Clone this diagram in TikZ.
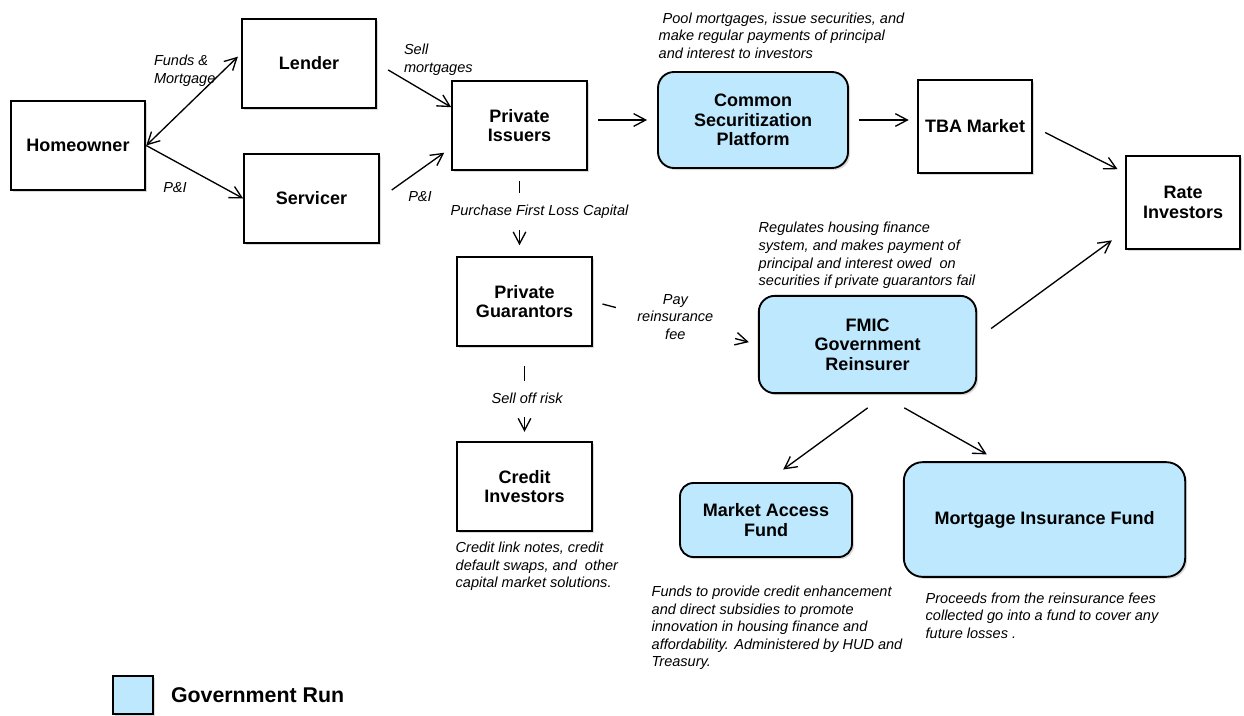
\documentclass[tikz,border=0pt]{standalone}
\usepackage{fontspec}
\setmainfont{Liberation Sans}
\usepackage{tikz}
\usetikzlibrary{shapes,arrows.meta,positioning,shadows}

\definecolor{govblue}{RGB}{189,232,253}
\newcommand{\boxfont}{\fontsize{13.5}{14.5}\selectfont\bfseries}
\newcommand{\lblfont}{\fontsize{10.9}{13.2}\selectfont\itshape}

\tikzstyle{party} = [rectangle, draw, line width=1.4pt, fill=white, align=center,
    font=\boxfont, minimum width=101pt, minimum height=67pt,
    drop shadow={shadow xshift=1.5pt, shadow yshift=-1.5pt, opacity=0.3}]
\tikzstyle{market} = [party, minimum width=86pt, minimum height=70pt]
\tikzstyle{govrun} = [party, fill=govblue, rounded corners=12pt]
\tikzstyle{note} = [font=\lblfont, align=left, inner sep=0pt, anchor=west]
\tikzstyle{flowlbl} = [font=\lblfont, align=center, inner sep=1pt]
\tikzstyle{gap} = [flowlbl, fill=white]

\begin{document}
\begin{tikzpicture}[x=0.75pt, y=-0.75pt, line width=1pt,
    >={Straight Barb[length=9pt,width=9.5pt]}]
    \useasboundingbox (0,0) rectangle (1244,715);

    \node[party] (home) at (78,145.5) {Homeowner};
    \node[party] (lender) at (309,63.5) {Lender};
    \node[party] (serv) at (311.5,198.5) {Servicer};
    \node[party] (issuers) at (519.5,125.5) {Private\\Issuers};
    \node[govrun, minimum width=142.5pt, minimum height=72pt] (csp) at (753,120) {Common\\Securitization\\Platform};
    \node[market] (tba) at (975,126.5) {TBA Market};
    \node[market] (rate) at (1183,202.5) {Rate\\Investors};

    \node[party] (guar) at (524.5,301.5) {Private\\Guarantors};
    \node[party, below=70.5pt of guar] (credit) {Credit\\Investors};
    \node[govrun, minimum width=163pt, minimum height=73pt] (fmic) at (867.5,344.5) {FMIC\\Government\\Reinsurer};
    \node[govrun, minimum width=129pt, minimum height=55.5pt, rounded corners=10pt] (maf) at (766,520) {Market Access\\Fund};
    \node[govrun, minimum width=211pt, minimum height=86pt, rounded corners=14pt] (mif) at (1044.5,519.5) {Mortgage Insurance Fund};

    \node[govrun, sharp corners, minimum width=30pt, minimum height=28.5pt] (legbox) at (133,695) {};
    \node[right=9pt of legbox, font=\fontsize{16}{19}\selectfont\bfseries] (legtext) {Government Run};

    \node[note] (poolnote) at (658,35.5) {\hspace*{3pt}Pool mortgages, issue securities, and\\make regular payments of principal\\and interest to investors};
    \node[note] (regnote) at (758,255.5) {Regulates housing finance\\system, and makes payment of\\principal and interest owed\ \ on\\securities if private guarantors fail};
    \node[note] (cdsnote) at (455,566.5) {Credit link notes, credit\\default swaps, and\ \ other\\capital market solutions.};
    \node[note] (mafnote) at (651,628) {Funds to provide credit enhancement\\and direct subsidies to promote\\innovation in housing finance and\\affordability. Administered by HUD and\\Treasury.};
    \node[note] (mifnote) at (925,615.5) {Proceeds from the reinsurance fees\\collected go into a fund to cover any\\future losses .};

    \node[flowlbl, align=left, anchor=west] (fundslbl) at (152,71) {Funds \&\\Mortgage};
    \node[flowlbl] (homepilbl) at (175,188) {P\&I};
    \node[flowlbl, align=left, anchor=west] (selllbl) at (402,60) {Sell\\mortgages};
    \node[flowlbl] (servpilbl) at (420,197) {P\&I};

    \path[draw,<->,shorten >=3pt] (home.east) -- (lender.172);
    \path[draw,->] (home.east) -- (serv.west);
    \path[draw,->,shorten <=9.5pt] (lender.east) -- (issuers.165);
    \path[draw,->,shorten <=11pt,shorten >=6.5pt] (serv.east) -- (issuers.198);
    \path[draw,->,shorten <=8pt,shorten >=7.5pt] (issuers.east |- csp.west) -- (csp.west);
    \path[draw,->,shorten <=7.5pt,shorten >=6pt] (csp.east) -- (csp.east -| tba.west);
    \path[draw,->,shorten <=10pt,shorten >=6pt] (tba.east) -- (rate.153);
    \path[draw,->,shorten <=13pt,shorten >=12pt] (fmic.3) -- (rate.206);

    \path[draw,->,shorten <=7.5pt,shorten >=8pt] (issuers.south) -- (issuers.south |- guar.north)
        node[gap, midway, xshift=15pt, yshift=1.5pt, inner ysep=9pt] (buylbl) {Purchase First Loss Capital};
    \path[draw,->,shorten <=14pt,shorten >=7pt] (guar.south) -- (credit.north)
        node[gap, midway, xshift=2pt, yshift=-3.5pt, inner ysep=9.5pt] (risklbl) {Sell off risk};
    \path[draw,->,shorten <=7.5pt,shorten >=7pt] (guar.east) -- (fmic.west)
        node[gap, midway, yshift=4.5pt, inner xsep=16pt] (feelbl) {Pay\\reinsurance\\fee};

    \path[draw,->,shorten <=17.5pt,shorten >=16pt] (fmic.291) -- (maf.north);
    \path[draw,->,shorten <=21pt,shorten >=10.5pt] (fmic.284) -- (mif.128);
\end{tikzpicture}
\end{document}
